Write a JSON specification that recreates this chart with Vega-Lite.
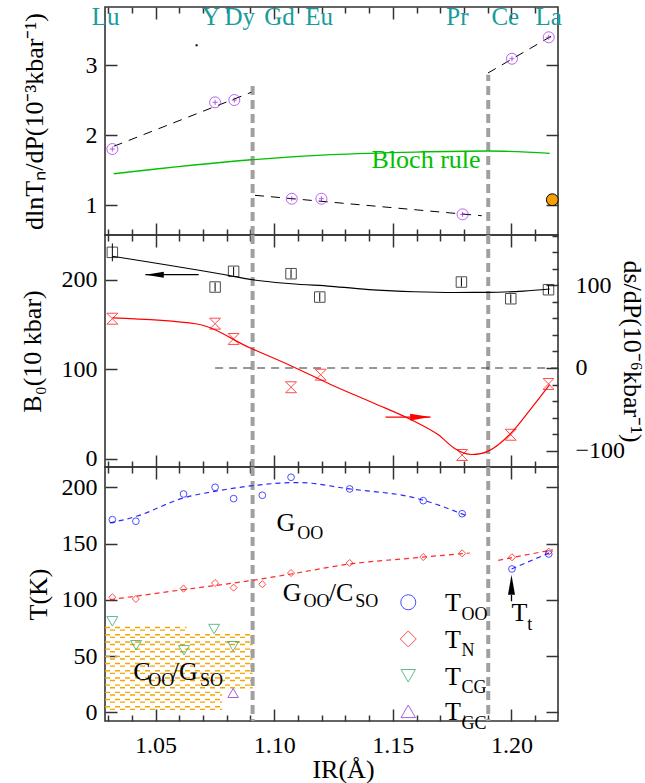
{
  "$schema": "https://vega.github.io/schema/vega-lite/v6.json",
  "padding": {"left": 18, "top": 3, "right": 2, "bottom": 2},
  "background": "white",
  "spacing": 0,
  "bounds": "flush",
  "config": {
    "font": "Liberation Serif, Times New Roman, serif",
    "view": {"stroke": "#333333", "strokeWidth": 1.6},
    "axis": {"grid": false, "domain": false, "labelFont": "Liberation Serif, Times New Roman, serif", "titleFont": "Liberation Serif, Times New Roman, serif", "labelFontSize": 24, "titleFontSize": 26, "titleFontWeight": "normal", "labelColor": "#000000", "titleColor": "#000000", "tickColor": "#333333", "tickWidth": 1.5, "labelFlush": false, "labelOverlap": false}
  },
  "datasets": {
    "topV": [{"x": 1.0909, "y": 0.576, "y2": 2.723}, {"x": 1.1902, "y": 0.576, "y2": 2.866}],
    "topFit": [{"seg": "a", "x": 1.0324, "y": 1.843}, {"seg": "a", "x": 1.0903, "y": 2.614}, {"seg": "b", "x": 1.0919, "y": 1.143}, {"seg": "b", "x": 1.1875, "y": 0.851}, {"seg": "c", "x": 1.1901, "y": 2.89}, {"seg": "c", "x": 1.2178, "y": 3.437}],
    "bloch": [{"x": 1.0324, "y": 1.451}, {"x": 1.0903, "y": 1.651}, {"x": 1.1239, "y": 1.723}, {"x": 1.1594, "y": 1.761}, {"x": 1.1901, "y": 1.776}, {"x": 1.2161, "y": 1.743}],
    "topPts": [{"x": 1.0318, "y": 1.804}, {"x": 1.0751, "y": 2.471}, {"x": 1.0832, "y": 2.504}, {"x": 1.1074, "y": 1.094}, {"x": 1.1199, "y": 1.094}, {"x": 1.1794, "y": 0.871}, {"x": 1.2002, "y": 3.094}, {"x": 1.2157, "y": 3.40}],
    "orange": [{"x": 1.2172, "y": 1.080}],
    "dot": [{"x": 1.0673, "y": 3.286}],
    "elabels": [{"x": 1.0290, "y": 3.58, "t": "Lu"}, {"x": 1.0734, "y": 3.58, "t": "Y"}, {"x": 1.0855, "y": 3.58, "t": "Dy"}, {"x": 1.1022, "y": 3.58, "t": "Gd"}, {"x": 1.1189, "y": 3.58, "t": "Eu"}, {"x": 1.1772, "y": 3.58, "t": "Pr"}, {"x": 1.1974, "y": 3.58, "t": "Ce"}, {"x": 1.2157, "y": 3.58, "t": "La"}],
    "blochTxt": [{"x": 1.164, "y": 1.533, "t": "Bloch rule"}],
    "vlines": [{"x": 1.0909}, {"x": 1.1902}],
    "Bcurve": [{"x": 1.0318, "B": 226.2}, {"x": 1.0829, "B": 203.8}, {"x": 1.0907, "B": 200.0}, {"x": 1.1071, "B": 195.5}, {"x": 1.124, "B": 192.6}, {"x": 1.1418, "B": 188.6}, {"x": 1.159, "B": 186.5}, {"x": 1.1764, "B": 185.7}, {"x": 1.19, "B": 185.8}, {"x": 1.205, "B": 187.3}, {"x": 1.2161, "B": 189.6}],
    "Bpts": [{"x": 1.0318, "B": 230.6, "lo": 220.6, "hi": 240.6}, {"x": 1.0751, "B": 191.8, "lo": 186.8, "hi": 196.8}, {"x": 1.0829, "B": 209.4, "lo": 204.4, "hi": 214.4}, {"x": 1.1071, "B": 206.7, "lo": 201.7, "hi": 211.7}, {"x": 1.1192, "B": 180.6, "lo": 175.6, "hi": 185.6}, {"x": 1.1789, "B": 197.4, "lo": 192.4, "hi": 202.4}, {"x": 1.1997, "B": 178.7, "lo": 173.7, "hi": 183.7}, {"x": 1.2156, "B": 188.8, "lo": 183.8, "hi": 193.8}],
    "Barrow": [{"x": 1.0457, "x2": 1.0682, "B": 205.6, "xh": 1.0496}],
    "zeroLine": [{"x": 1.0751, "x2": 1.2196, "s": 0}],
    "scurve": [{"x": 1.0318, "s": 60.5}, {"x": 1.0674, "s": 53.2}, {"x": 1.0899, "s": 24.2}, {"x": 1.107, "s": 2.8}, {"x": 1.124, "s": -20.2}, {"x": 1.1418, "s": -42.3}, {"x": 1.159, "s": -64.4}, {"x": 1.169, "s": -80.5}, {"x": 1.1764, "s": -98.0}, {"x": 1.1800, "s": -103.0}, {"x": 1.1833, "s": -104.6}, {"x": 1.187, "s": -103.6}, {"x": 1.1902, "s": -100.5}, {"x": 1.1997, "s": -79.0}, {"x": 1.208, "s": -50.0}, {"x": 1.2161, "s": -20.2}],
    "spts": [{"x": 1.0318, "s": 59.6}, {"x": 1.0751, "s": 53.6}, {"x": 1.0829, "s": 35.1}, {"x": 1.1071, "s": -23.3}, {"x": 1.1196, "s": -8.1}, {"x": 1.1792, "s": -105.2}, {"x": 1.1997, "s": -80.7}, {"x": 1.2156, "s": -19.3}],
    "Sarrow": [{"x": 1.1469, "x2": 1.1659, "s": -59.3, "xh": 1.1616}],
    "hatch": [{"x": 1.0287, "x2": 1.078, "T": 3.8}, {"x": 1.0287, "x2": 1.078, "T": 10.2}, {"x": 1.0287, "x2": 1.078, "T": 16.6}, {"x": 1.0287, "x2": 1.0909, "T": 23.0}, {"x": 1.0287, "x2": 1.0909, "T": 29.4}, {"x": 1.0287, "x2": 1.0909, "T": 35.8}, {"x": 1.0287, "x2": 1.0909, "T": 42.2}, {"x": 1.0287, "x2": 1.0909, "T": 48.6}, {"x": 1.0287, "x2": 1.0909, "T": 55.0}, {"x": 1.0287, "x2": 1.0909, "T": 61.4}, {"x": 1.0287, "x2": 1.0909, "T": 67.8}, {"x": 1.0287, "x2": 1.063, "T": 74.2}],
    "blueCurve": [{"seg": "a", "x": 1.0308, "T": 168.3}, {"seg": "a", "x": 1.042, "T": 174.2}, {"seg": "a", "x": 1.0617, "T": 190.5}, {"seg": "a", "x": 1.075, "T": 196.4}, {"seg": "a", "x": 1.0909, "T": 201.4}, {"seg": "a", "x": 1.110, "T": 204.2}, {"seg": "a", "x": 1.1318, "T": 198.5}, {"seg": "a", "x": 1.1594, "T": 190.5}, {"seg": "a", "x": 1.1817, "T": 174.2}, {"seg": "b", "x": 1.2000, "T": 127.4}, {"seg": "b", "x": 1.2175, "T": 143.1}],
    "redCurve": [{"seg": "a", "x": 1.0308, "T": 100.1}, {"seg": "a", "x": 1.0618, "T": 109.0}, {"seg": "a", "x": 1.0909, "T": 117.3}, {"seg": "a", "x": 1.1071, "T": 122.9}, {"seg": "a", "x": 1.1318, "T": 131.8}, {"seg": "a", "x": 1.159, "T": 137.2}, {"seg": "a", "x": 1.1824, "T": 141.6}, {"seg": "b", "x": 1.1944, "T": 135.1}, {"seg": "b", "x": 1.2175, "T": 144.5}],
    "too": [{"x": 1.0318, "T": 171.2}, {"x": 1.0417, "T": 169.8}, {"x": 1.0618, "T": 194.0}, {"x": 1.0751, "T": 200.0}, {"x": 1.0829, "T": 189.9}, {"x": 1.0950, "T": 192.9}, {"x": 1.1071, "T": 208.9}, {"x": 1.1318, "T": 198.5}, {"x": 1.1628, "T": 188.1}, {"x": 1.1792, "T": 176.5}, {"x": 1.2002, "T": 127.4}, {"x": 1.2157, "T": 140.7}],
    "tn": [{"x": 1.0318, "T": 102.2}, {"x": 1.0417, "T": 100.7}, {"x": 1.0618, "T": 109.9}, {"x": 1.0751, "T": 114.9}, {"x": 1.0829, "T": 110.8}, {"x": 1.0950, "T": 113.8}, {"x": 1.1071, "T": 123.8}, {"x": 1.1318, "T": 132.7}, {"x": 1.1628, "T": 138.0}, {"x": 1.1792, "T": 141.3}, {"x": 1.2002, "T": 137.8}, {"x": 1.2157, "T": 142.8}],
    "tcg": [{"x": 1.0318, "T": 80.9}, {"x": 1.0418, "T": 59.6}, {"x": 1.0620, "T": 55.1}, {"x": 1.0747, "T": 74.0}, {"x": 1.0827, "T": 58.7}],
    "tgc": [{"x": 1.0827, "T": 17.2}],
    "legOO": [{"x": 1.1565, "T": 97.8}],
    "legN": [{"x": 1.1565, "T": 65.2}],
    "legCG": [{"x": 1.1565, "T": 32.5}],
    "legGC": [{"x": 1.1565, "T": 0.9}],
    "bigTxt": [{"x": 1.1010, "T": 160.9, "t": "G"}, {"x": 1.1036, "T": 98.6, "t": "G"}, {"x": 1.1230, "T": 98.6, "t": "/C"}, {"x": 1.0406, "T": 28.4, "t": "C"}, {"x": 1.0568, "T": 28.4, "t": "/G"}, {"x": 1.1720, "T": 89.8, "t": "T"}, {"x": 1.1720, "T": 57.2, "t": "T"}, {"x": 1.1720, "T": 24.5, "t": "T"}, {"x": 1.1720, "T": -7.1, "t": "T"}, {"x": 1.2000, "T": 81.2, "t": "T"}],
    "subTxt": [{"x": 1.1097, "T": 154.0, "t": "OO"}, {"x": 1.1123, "T": 93.6, "t": "OO"}, {"x": 1.1342, "T": 93.6, "t": "SO"}, {"x": 1.0469, "T": 23.1, "t": "OO"}, {"x": 1.0687, "T": 23.1, "t": "SO"}, {"x": 1.1789, "T": 82.3, "t": "OO"}, {"x": 1.1789, "T": 49.7, "t": "N"}, {"x": 1.1789, "T": 17.0, "t": "CG"}, {"x": 1.1789, "T": -14.6, "t": "GC"}, {"x": 1.2066, "T": 73.4, "t": "t"}],
    "ttArrow": [{"x": 1.2000, "T": 98.7, "T2": 104.5, "Th": 113.4}]
  },
  "vconcat": [
    {
      "width": 453, "height": 228,
      "resolve": {"scale": {"x": "independent", "y": "independent"}},
      "layer": [
        {"data": {"name": "topV"}, "mark": {"type": "rule", "color": "#a0a0a0", "strokeWidth": 4, "strokeDash": [9, 5]},
         "encoding": {"x": {"field": "x", "type": "quantitative", "scale": {"domain": [1.0287, 1.2196], "nice": false, "zero": false}, "axis": {"orient": "bottom", "values": [1.05, 1.1, 1.15, 1.2], "labels": false, "tickSize": -12, "title": null}},
                      "y": {"field": "y", "type": "quantitative", "scale": {"domain": [0.576, 3.833], "nice": false, "zero": false}, "axis": {"orient": "left", "values": [1, 2, 3], "ticks": false, "labelPadding": 8, "title": "dlnTₙ/dP(10⁻³kbar⁻¹)", "titleX": -71, "titleBaseline": "middle"}},
                      "y2": {"field": "y2"}}},
        {"data": {"name": "topFit"}, "mark": {"type": "line", "color": "#000000", "strokeWidth": 1, "strokeDash": [9, 7]},
         "encoding": {"x": {"field": "x", "type": "quantitative", "scale": {"domain": [1.0287, 1.2196], "nice": false, "zero": false}, "axis": {"orient": "bottom", "values": [1.03, 1.04, 1.06, 1.07, 1.08, 1.09, 1.11, 1.12, 1.13, 1.14, 1.16, 1.17, 1.18, 1.19, 1.21], "labels": false, "tickSize": -6, "title": null}},
                      "y": {"field": "y", "type": "quantitative", "scale": {"domain": [0.576, 3.833], "nice": false, "zero": false}, "axis": {"orient": "left", "values": [1, 2, 3], "labels": false, "tickSize": -12, "title": null}},
                      "detail": {"field": "seg"}}},
        {"data": {"name": "bloch"}, "mark": {"type": "line", "color": "#00c000", "strokeWidth": 1.3, "interpolate": "monotone"},
         "encoding": {"x": {"field": "x", "type": "quantitative", "scale": {"domain": [1.0287, 1.2196], "nice": false, "zero": false}, "axis": {"orient": "top", "values": [1.05, 1.1, 1.15, 1.2], "labels": false, "tickSize": -12, "title": null}},
                      "y": {"field": "y", "type": "quantitative", "scale": {"domain": [0.576, 3.833], "nice": false, "zero": false}, "axis": {"orient": "right", "values": [1, 2, 3], "labels": false, "tickSize": -12, "title": null}}}},
        {"data": {"name": "topPts"}, "mark": {"type": "point", "shape": "circle", "filled": false, "color": "#a020f0", "size": 121, "strokeWidth": 1},
         "encoding": {"x": {"field": "x", "type": "quantitative", "scale": {"domain": [1.0287, 1.2196], "nice": false, "zero": false}, "axis": {"orient": "top", "values": [1.03, 1.04, 1.06, 1.07, 1.08, 1.09, 1.11, 1.12, 1.13, 1.14, 1.16, 1.17, 1.18, 1.19, 1.21], "labels": false, "tickSize": -6, "title": null}},
                      "y": {"field": "y", "type": "quantitative", "scale": {"domain": [0.576, 3.833], "nice": false, "zero": false}, "axis": null}}},
        {"data": {"name": "topPts"}, "mark": {"type": "point", "shape": "M-1,0L1,0M0,-1L0,1", "filled": false, "color": "#8a1ad0", "size": 25, "strokeWidth": 1},
         "encoding": {"x": {"field": "x", "type": "quantitative", "scale": {"domain": [1.0287, 1.2196], "nice": false, "zero": false}, "axis": null},
                      "y": {"field": "y", "type": "quantitative", "scale": {"domain": [0.576, 3.833], "nice": false, "zero": false}, "axis": null}}},
        {"data": {"name": "orange"}, "mark": {"type": "point", "shape": "circle", "filled": true, "fill": "#f5a000", "stroke": "#000000", "strokeWidth": 1, "opacity": 1, "size": 140},
         "encoding": {"x": {"field": "x", "type": "quantitative", "scale": {"domain": [1.0287, 1.2196], "nice": false, "zero": false}, "axis": null},
                      "y": {"field": "y", "type": "quantitative", "scale": {"domain": [0.576, 3.833], "nice": false, "zero": false}, "axis": null}}},
        {"data": {"name": "dot"}, "mark": {"type": "point", "shape": "square", "filled": true, "color": "#000000", "opacity": 1, "size": 4},
         "encoding": {"x": {"field": "x", "type": "quantitative", "scale": {"domain": [1.0287, 1.2196], "nice": false, "zero": false}, "axis": null},
                      "y": {"field": "y", "type": "quantitative", "scale": {"domain": [0.576, 3.833], "nice": false, "zero": false}, "axis": null}}},
        {"data": {"name": "elabels"}, "mark": {"type": "text", "align": "center", "baseline": "alphabetic", "fontSize": 25, "font": "Liberation Serif, Times New Roman, serif", "color": "#179b9b"},
         "encoding": {"x": {"field": "x", "type": "quantitative", "scale": {"domain": [1.0287, 1.2196], "nice": false, "zero": false}, "axis": null},
                      "y": {"field": "y", "type": "quantitative", "scale": {"domain": [0.576, 3.833], "nice": false, "zero": false}, "axis": null},
                      "text": {"field": "t"}}},
        {"data": {"name": "blochTxt"}, "mark": {"type": "text", "align": "center", "baseline": "alphabetic", "fontSize": 26, "font": "Liberation Serif, Times New Roman, serif", "color": "#00c000"},
         "encoding": {"x": {"field": "x", "type": "quantitative", "scale": {"domain": [1.0287, 1.2196], "nice": false, "zero": false}, "axis": null},
                      "y": {"field": "y", "type": "quantitative", "scale": {"domain": [0.576, 3.833], "nice": false, "zero": false}, "axis": null},
                      "text": {"field": "t"}}}
      ]
    },
    {
      "width": 453, "height": 232,
      "resolve": {"scale": {"x": "independent", "y": "independent"}},
      "layer": [
        {"data": {"name": "vlines"}, "mark": {"type": "rule", "color": "#a0a0a0", "strokeWidth": 4, "strokeDash": [9, 5]},
         "encoding": {"x": {"field": "x", "type": "quantitative", "scale": {"domain": [1.0287, 1.2196], "nice": false, "zero": false}, "axis": {"orient": "bottom", "values": [1.05, 1.1, 1.15, 1.2], "labels": false, "tickSize": -12, "title": null}}}},
        {"data": {"name": "Bcurve"}, "mark": {"type": "line", "color": "#000000", "strokeWidth": 1.2, "interpolate": "monotone"},
         "encoding": {"x": {"field": "x", "type": "quantitative", "scale": {"domain": [1.0287, 1.2196], "nice": false, "zero": false}, "axis": {"orient": "bottom", "values": [1.03, 1.04, 1.06, 1.07, 1.08, 1.09, 1.11, 1.12, 1.13, 1.14, 1.16, 1.17, 1.18, 1.19, 1.21], "labels": false, "tickSize": -6, "title": null}},
                      "y": {"field": "B", "type": "quantitative", "scale": {"domain": [-9.5, 250], "nice": false, "zero": false}, "axis": {"orient": "left", "values": [0, 100, 200], "ticks": false, "labelPadding": 8, "title": "B₀(10 kbar)", "titleX": -72.5, "titleBaseline": "middle"}}}},
        {"data": {"name": "Bpts"}, "mark": {"type": "point", "shape": "square", "filled": false, "color": "#000000", "size": 110, "strokeWidth": 1},
         "encoding": {"x": {"field": "x", "type": "quantitative", "scale": {"domain": [1.0287, 1.2196], "nice": false, "zero": false}, "axis": {"orient": "top", "values": [1.05, 1.1, 1.15, 1.2], "labels": false, "tickSize": -12, "title": null}},
                      "y": {"field": "B", "type": "quantitative", "scale": {"domain": [-9.5, 250], "nice": false, "zero": false}, "axis": {"orient": "left", "values": [0, 100, 200], "labels": false, "tickSize": -12, "title": null}}}},
        {"data": {"name": "Bpts"}, "mark": {"type": "rule", "color": "#000000", "strokeWidth": 1},
         "encoding": {"x": {"field": "x", "type": "quantitative", "scale": {"domain": [1.0287, 1.2196], "nice": false, "zero": false}, "axis": {"orient": "top", "values": [1.03, 1.04, 1.06, 1.07, 1.08, 1.09, 1.11, 1.12, 1.13, 1.14, 1.16, 1.17, 1.18, 1.19, 1.21], "labels": false, "tickSize": -6, "title": null}},
                      "y": {"field": "lo", "type": "quantitative", "scale": {"domain": [-9.5, 250], "nice": false, "zero": false}, "axis": null},
                      "y2": {"field": "hi"}}},
        {"data": {"name": "Barrow"}, "mark": {"type": "rule", "color": "#000000", "strokeWidth": 1.3},
         "encoding": {"x": {"field": "x", "type": "quantitative", "scale": {"domain": [1.0287, 1.2196], "nice": false, "zero": false}, "axis": null},
                      "x2": {"field": "x2"},
                      "y": {"field": "B", "type": "quantitative", "scale": {"domain": [-9.5, 250], "nice": false, "zero": false}, "axis": null}}},
        {"data": {"name": "Barrow"}, "mark": {"type": "point", "shape": "M-1,0L1,-0.32L1,0.32Z", "filled": true, "color": "#000000", "opacity": 1, "size": 342, "strokeWidth": 0},
         "encoding": {"x": {"field": "xh", "type": "quantitative", "scale": {"domain": [1.0287, 1.2196], "nice": false, "zero": false}, "axis": null},
                      "y": {"field": "B", "type": "quantitative", "scale": {"domain": [-9.5, 250], "nice": false, "zero": false}, "axis": null}}},
        {"data": {"name": "zeroLine"}, "mark": {"type": "rule", "color": "#333333", "strokeWidth": 1.2, "strokeDash": [8, 6]},
         "encoding": {"x": {"field": "x", "type": "quantitative", "scale": {"domain": [1.0287, 1.2196], "nice": false, "zero": false}, "axis": null},
                      "x2": {"field": "x2"},
                      "y": {"field": "s", "type": "quantitative", "scale": {"domain": [-119.7, 160.8], "nice": false, "zero": false}, "axis": {"orient": "right", "values": [-100, 0, 100], "ticks": false, "labelPadding": 17, "title": "ds/dP(10⁻⁶kbar⁻¹)", "titleX": 73, "titleBaseline": "middle"}}}},
        {"data": {"name": "scurve"}, "mark": {"type": "line", "color": "#ff0000", "strokeWidth": 1.2, "interpolate": "monotone"},
         "encoding": {"x": {"field": "x", "type": "quantitative", "scale": {"domain": [1.0287, 1.2196], "nice": false, "zero": false}, "axis": null},
                      "y": {"field": "s", "type": "quantitative", "scale": {"domain": [-119.7, 160.8], "nice": false, "zero": false}, "axis": {"orient": "right", "values": [-100, 0, 100], "labels": false, "tickSize": -12, "title": null}}}},
        {"data": {"name": "spts"}, "mark": {"type": "point", "shape": "M-1,-1L1,-1L-1,1L1,1Z", "filled": false, "color": "#ff0000", "size": 120, "strokeWidth": 1},
         "encoding": {"x": {"field": "x", "type": "quantitative", "scale": {"domain": [1.0287, 1.2196], "nice": false, "zero": false}, "axis": null},
                      "y": {"field": "s", "type": "quantitative", "scale": {"domain": [-119.7, 160.8], "nice": false, "zero": false}, "axis": {"orient": "right", "values": [-80, -60, -40, -20, 20, 40, 60, 80, 120, 140, 160], "labels": false, "tickSize": -6, "title": null}}}},
        {"data": {"name": "Sarrow"}, "mark": {"type": "rule", "color": "#ff0000", "strokeWidth": 1.3},
         "encoding": {"x": {"field": "x", "type": "quantitative", "scale": {"domain": [1.0287, 1.2196], "nice": false, "zero": false}, "axis": null},
                      "x2": {"field": "x2"},
                      "y": {"field": "s", "type": "quantitative", "scale": {"domain": [-119.7, 160.8], "nice": false, "zero": false}, "axis": null}}},
        {"data": {"name": "Sarrow"}, "mark": {"type": "point", "shape": "M1,0L-1,-0.33L-1,0.33Z", "filled": true, "color": "#ff0000", "opacity": 1, "size": 420, "strokeWidth": 0},
         "encoding": {"x": {"field": "xh", "type": "quantitative", "scale": {"domain": [1.0287, 1.2196], "nice": false, "zero": false}, "axis": null},
                      "y": {"field": "s", "type": "quantitative", "scale": {"domain": [-119.7, 160.8], "nice": false, "zero": false}, "axis": null}}}
      ]
    },
    {
      "width": 453, "height": 254,
      "resolve": {"scale": {"x": "independent", "y": "independent"}},
      "layer": [
        {"data": {"name": "hatch"}, "mark": {"type": "rule", "color": "#f5a500", "strokeWidth": 1.4, "strokeDash": [5, 5], "yOffset": -1.3},
         "encoding": {"x": {"field": "x", "type": "quantitative", "scale": {"domain": [1.0287, 1.2196], "nice": false, "zero": false}, "axis": {"orient": "bottom", "values": [1.05, 1.1, 1.15, 1.2], "format": ".2f", "ticks": false, "labelPadding": 12, "title": "IR(Å)", "titleX": 238, "titleY": 56, "titleBaseline": "alphabetic", "titleAlign": "center"}},
                      "x2": {"field": "x2"},
                      "y": {"field": "T", "type": "quantitative", "scale": {"domain": [-7.7, 218], "nice": false, "zero": false}, "axis": {"orient": "left", "values": [0, 50, 100, 150, 200], "ticks": false, "labelPadding": 8, "title": "T(K)", "titleX": -67, "titleBaseline": "middle"}}}},
        {"data": {"name": "hatch"}, "mark": {"type": "rule", "color": "#f5a500", "strokeWidth": 1.4, "strokeDash": [5, 5], "strokeDashOffset": 5, "yOffset": 1.3},
         "encoding": {"x": {"field": "x", "type": "quantitative", "scale": {"domain": [1.0287, 1.2196], "nice": false, "zero": false}, "axis": {"orient": "bottom", "values": [1.05, 1.1, 1.15, 1.2], "labels": false, "tickSize": -12, "title": null}},
                      "x2": {"field": "x2"},
                      "y": {"field": "T", "type": "quantitative", "scale": {"domain": [-7.7, 218], "nice": false, "zero": false}, "axis": {"orient": "left", "values": [0, 50, 100, 150, 200], "labels": false, "tickSize": -12, "title": null}}}},
        {"data": {"name": "vlines"}, "mark": {"type": "rule", "color": "#a0a0a0", "strokeWidth": 4, "strokeDash": [9, 5]},
         "encoding": {"x": {"field": "x", "type": "quantitative", "scale": {"domain": [1.0287, 1.2196], "nice": false, "zero": false}, "axis": {"orient": "bottom", "values": [1.03, 1.04, 1.06, 1.07, 1.08, 1.09, 1.11, 1.12, 1.13, 1.14, 1.16, 1.17, 1.18, 1.19, 1.21], "labels": false, "tickSize": -6, "title": null}}}},
        {"data": {"name": "blueCurve"}, "mark": {"type": "line", "color": "#2a2aff", "strokeWidth": 1.2, "strokeDash": [5, 4], "interpolate": "monotone"},
         "encoding": {"x": {"field": "x", "type": "quantitative", "scale": {"domain": [1.0287, 1.2196], "nice": false, "zero": false}, "axis": {"orient": "top", "values": [1.05, 1.1, 1.15, 1.2], "labels": false, "tickSize": -12, "title": null}},
                      "y": {"field": "T", "type": "quantitative", "scale": {"domain": [-7.7, 218], "nice": false, "zero": false}, "axis": {"orient": "right", "values": [0, 50, 100, 150, 200], "labels": false, "tickSize": -12, "title": null}},
                      "detail": {"field": "seg"}}},
        {"data": {"name": "redCurve"}, "mark": {"type": "line", "color": "#ff2a2a", "strokeWidth": 1.2, "strokeDash": [5, 4], "interpolate": "monotone"},
         "encoding": {"x": {"field": "x", "type": "quantitative", "scale": {"domain": [1.0287, 1.2196], "nice": false, "zero": false}, "axis": {"orient": "top", "values": [1.03, 1.04, 1.06, 1.07, 1.08, 1.09, 1.11, 1.12, 1.13, 1.14, 1.16, 1.17, 1.18, 1.19, 1.21], "labels": false, "tickSize": -6, "title": null}},
                      "y": {"field": "T", "type": "quantitative", "scale": {"domain": [-7.7, 218], "nice": false, "zero": false}, "axis": null},
                      "detail": {"field": "seg"}}},
        {"data": {"name": "too"}, "mark": {"type": "point", "shape": "circle", "filled": false, "color": "#0000ff", "size": 45, "strokeWidth": 1},
         "encoding": {"x": {"field": "x", "type": "quantitative", "scale": {"domain": [1.0287, 1.2196], "nice": false, "zero": false}, "axis": null},
                      "y": {"field": "T", "type": "quantitative", "scale": {"domain": [-7.7, 218], "nice": false, "zero": false}, "axis": null}}},
        {"data": {"name": "tn"}, "mark": {"type": "point", "shape": "diamond", "filled": false, "color": "#ff0000", "size": 50, "strokeWidth": 1},
         "encoding": {"x": {"field": "x", "type": "quantitative", "scale": {"domain": [1.0287, 1.2196], "nice": false, "zero": false}, "axis": null},
                      "y": {"field": "T", "type": "quantitative", "scale": {"domain": [-7.7, 218], "nice": false, "zero": false}, "axis": null}}},
        {"data": {"name": "tcg"}, "mark": {"type": "point", "shape": "triangle-down", "filled": false, "color": "#1f9f5f", "size": 120, "strokeWidth": 1},
         "encoding": {"x": {"field": "x", "type": "quantitative", "scale": {"domain": [1.0287, 1.2196], "nice": false, "zero": false}, "axis": null},
                      "y": {"field": "T", "type": "quantitative", "scale": {"domain": [-7.7, 218], "nice": false, "zero": false}, "axis": null}}},
        {"data": {"name": "tgc"}, "mark": {"type": "point", "shape": "triangle-up", "filled": false, "color": "#7f20cf", "size": 110, "strokeWidth": 1},
         "encoding": {"x": {"field": "x", "type": "quantitative", "scale": {"domain": [1.0287, 1.2196], "nice": false, "zero": false}, "axis": null},
                      "y": {"field": "T", "type": "quantitative", "scale": {"domain": [-7.7, 218], "nice": false, "zero": false}, "axis": null}}},
        {"data": {"name": "legOO"}, "mark": {"type": "point", "shape": "circle", "filled": false, "color": "#0000ff", "size": 225, "strokeWidth": 1},
         "encoding": {"x": {"field": "x", "type": "quantitative", "scale": {"domain": [1.0287, 1.2196], "nice": false, "zero": false}, "axis": null},
                      "y": {"field": "T", "type": "quantitative", "scale": {"domain": [-7.7, 218], "nice": false, "zero": false}, "axis": null}}},
        {"data": {"name": "legN"}, "mark": {"type": "point", "shape": "diamond", "filled": false, "color": "#ff0000", "size": 256, "strokeWidth": 1},
         "encoding": {"x": {"field": "x", "type": "quantitative", "scale": {"domain": [1.0287, 1.2196], "nice": false, "zero": false}, "axis": null},
                      "y": {"field": "T", "type": "quantitative", "scale": {"domain": [-7.7, 218], "nice": false, "zero": false}, "axis": null}}},
        {"data": {"name": "legCG"}, "mark": {"type": "point", "shape": "triangle-down", "filled": false, "color": "#1f9f5f", "size": 210, "strokeWidth": 1},
         "encoding": {"x": {"field": "x", "type": "quantitative", "scale": {"domain": [1.0287, 1.2196], "nice": false, "zero": false}, "axis": null},
                      "y": {"field": "T", "type": "quantitative", "scale": {"domain": [-7.7, 218], "nice": false, "zero": false}, "axis": null}}},
        {"data": {"name": "legGC"}, "mark": {"type": "point", "shape": "triangle-up", "filled": false, "color": "#7f20cf", "size": 210, "strokeWidth": 1},
         "encoding": {"x": {"field": "x", "type": "quantitative", "scale": {"domain": [1.0287, 1.2196], "nice": false, "zero": false}, "axis": null},
                      "y": {"field": "T", "type": "quantitative", "scale": {"domain": [-7.7, 218], "nice": false, "zero": false}, "axis": null}}},
        {"data": {"name": "bigTxt"}, "mark": {"type": "text", "align": "left", "baseline": "alphabetic", "fontSize": 26, "font": "Liberation Serif, Times New Roman, serif", "color": "#000000"},
         "encoding": {"x": {"field": "x", "type": "quantitative", "scale": {"domain": [1.0287, 1.2196], "nice": false, "zero": false}, "axis": null},
                      "y": {"field": "T", "type": "quantitative", "scale": {"domain": [-7.7, 218], "nice": false, "zero": false}, "axis": null},
                      "text": {"field": "t"}}},
        {"data": {"name": "subTxt"}, "mark": {"type": "text", "align": "left", "baseline": "alphabetic", "fontSize": 18, "font": "Liberation Serif, Times New Roman, serif", "color": "#000000"},
         "encoding": {"x": {"field": "x", "type": "quantitative", "scale": {"domain": [1.0287, 1.2196], "nice": false, "zero": false}, "axis": null},
                      "y": {"field": "T", "type": "quantitative", "scale": {"domain": [-7.7, 218], "nice": false, "zero": false}, "axis": null},
                      "text": {"field": "t"}}},
        {"data": {"name": "ttArrow"}, "mark": {"type": "rule", "color": "#000000", "strokeWidth": 1.3},
         "encoding": {"x": {"field": "x", "type": "quantitative", "scale": {"domain": [1.0287, 1.2196], "nice": false, "zero": false}, "axis": null},
                      "y": {"field": "T", "type": "quantitative", "scale": {"domain": [-7.7, 218], "nice": false, "zero": false}, "axis": null},
                      "y2": {"field": "T2"}}},
        {"data": {"name": "ttArrow"}, "mark": {"type": "point", "shape": "M0,-1L0.35,1L-0.35,1Z", "filled": true, "color": "#000000", "opacity": 1, "size": 400, "strokeWidth": 0},
         "encoding": {"x": {"field": "x", "type": "quantitative", "scale": {"domain": [1.0287, 1.2196], "nice": false, "zero": false}, "axis": null},
                      "y": {"field": "Th", "type": "quantitative", "scale": {"domain": [-7.7, 218], "nice": false, "zero": false}, "axis": null}}}
      ]
    }
  ]
}
